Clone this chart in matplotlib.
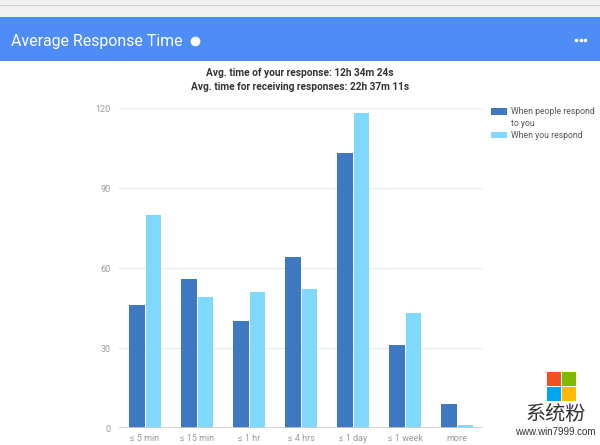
import matplotlib
matplotlib.use("Agg")
import matplotlib.pyplot as plt
from matplotlib.patches import Rectangle
from matplotlib.lines import Line2D
import numpy as np

categories = ["≤ 5 min", "≤ 15 min", "≤ 1 hr", "≤ 4 hrs", "≤ 1 day", "≤ 1 week", "more"]
people_respond = [46, 56, 40, 64, 103, 31, 9]
you_respond = [80, 49, 51, 52, 118, 43, 1]
yticks = [0, 30, 60, 90, 120]
series_names = ["When people respond\nto you", "When you respond"]

plt.rcParams['font.family'] = ['Roboto', 'DejaVu Sans']

W, H = 600, 445
fig = plt.figure(figsize=(6, 4.45), dpi=100)
fig.patch.set_facecolor("white")

def fx(px):
    return px / W

def fy(py):
    return 1 - py / H

# header bands
fig.add_artist(Rectangle((0, fy(17)), 1, 17 / H, transform=fig.transFigure,
                         facecolor="#f1f1f1", edgecolor="none", zorder=0))
fig.add_artist(Rectangle((0, fy(6)), 1, 1.2 / H, transform=fig.transFigure,
                         facecolor="#d0d0d0", edgecolor="none", zorder=1))
fig.add_artist(Rectangle((0, fy(61)), 1, 44 / H, transform=fig.transFigure,
                         facecolor="#4e8df5", edgecolor="none", zorder=1))
fig.text(fx(11), fy(46), "Average Response Time", color="white", fontsize=11.4,
         fontweight="normal", va="baseline", ha="left")
fig.add_artist(Line2D([fx(195)], [fy(41)], marker="o", markersize=7, color="white",
                      markeredgewidth=0, linestyle="none", transform=fig.transFigure, zorder=2))
fig.add_artist(Line2D([fx(576), fx(580.5), fx(585)], [fy(40)] * 3, marker="o", markersize=2.6,
                      color="white", markeredgewidth=0, linestyle="none",
                      transform=fig.transFigure, zorder=2))

fig.text(fx(300), fy(73), "Avg. time of your response: 12h 34m 24s", color="#333333",
         fontsize=7.3, fontweight="bold", ha="center", va="center")
fig.text(fx(300), fy(87), "Avg. time for receiving responses: 22h 37m 11s", color="#333333",
         fontsize=7.3, fontweight="bold", ha="center", va="center")

ax = fig.add_axes([fx(119), fy(428), (483 - 119) / W, (428 - 108) / H])
x = np.arange(len(categories))
bw = 0.30
c_dark = "#3d78c0"
c_light = "#80d8fc"
ax.bar(x - 0.155, people_respond, width=bw, color=c_dark, zorder=3, label=series_names[0])
ax.bar(x + 0.165, you_respond, width=bw, color=c_light, zorder=3, label=series_names[1])
ax.set_xlim(-0.5, len(categories) - 0.5)
ax.set_ylim(0, 120)
ax.set_yticks(yticks)
ax.set_yticklabels([str(v) for v in yticks])
ax.set_xticks(x)
ax.set_xticklabels(categories)
ax.tick_params(axis="both", length=0, labelsize=6.5, labelcolor="#9a9a9a")
ax.tick_params(axis="y", pad=6)
ax.tick_params(axis="x", pad=4)
for v in yticks[1:]:
    ax.axhline(v, color="#ebebeb", linewidth=1, zorder=1)
ax.axhline(0, color="#cccccc", linewidth=1.2, zorder=4)
for s in ax.spines.values():
    s.set_visible(False)

# legend (manual layout)
fig.add_artist(Rectangle((fx(491), fy(115)), 16 / W, 7 / H, transform=fig.transFigure,
                         facecolor=c_dark, edgecolor="none"))
fig.add_artist(Rectangle((fx(491), fy(138)), 16 / W, 6 / H, transform=fig.transFigure,
                         facecolor=c_light, edgecolor="none"))
fig.text(fx(511), fy(106.5), series_names[0], fontsize=6.2, color="#555555", va="top",
         ha="left", linespacing=1.55)
fig.text(fx(511), fy(135), series_names[1], fontsize=6.2, color="#555555", va="center",
         ha="left")

# watermark
sq = 14
for (dx, dy, col) in [(0, 0, "#f25022"), (15, 0, "#7fba00"), (0, 15, "#00a4ef"), (15, 15, "#ffb900")]:
    fig.add_artist(Rectangle((fx(547 + dx), fy(372 + dy + sq)), sq / W, sq / H,
                             transform=fig.transFigure, facecolor=col, edgecolor="none", zorder=5))
fig.text(fx(556), fy(414), "系统粉", fontsize=14.5, color="#333333", ha="center", va="center",
         family=["Noto Sans CJK SC", "DejaVu Sans"], zorder=5)
fig.text(fx(555), fy(432), "www.win7999.com", fontsize=7, color="#333333", ha="center",
         va="center", family=["Liberation Sans", "DejaVu Sans"], zorder=5)

fig.savefig("out.png", dpi=100)
